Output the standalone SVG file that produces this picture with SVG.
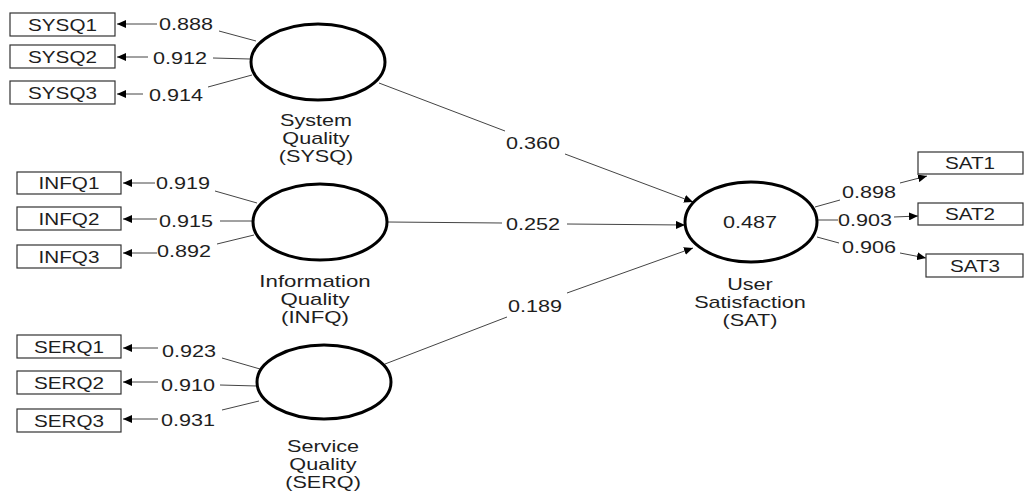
<svg xmlns="http://www.w3.org/2000/svg" width="1024" height="493" viewBox="0 0 1024 493">
<style>
text{font-family:"Liberation Sans",Arial,sans-serif;font-size:15.9px;fill:#1e1e1e;text-anchor:middle}
.lv{fill:none;stroke:#000;stroke-width:3}
.box{fill:#fff;stroke:#333;stroke-width:1.2}
.ln{fill:none;stroke:#444;stroke-width:1}
.ar{fill:none;stroke:#444;stroke-width:1;marker-end:url(#ah)}
</style>
<defs>
<marker id="ah" markerUnits="userSpaceOnUse" markerWidth="10" markerHeight="8" refX="9" refY="4" orient="auto">
<path d="M0,0 L9,4 L0,8 z" fill="#000"/>
</marker>
</defs>
<rect width="1024" height="493" fill="#fff"/>

<g id="connectors">
<line class="ar" x1="157" y1="24" x2="117" y2="24"/>
<line class="ln" x1="219" y1="31" x2="256" y2="41"/>
<text transform="translate(186,29.5) scale(1.36,1)">0.888</text>
<line class="ar" x1="148" y1="57" x2="117" y2="57"/>
<line class="ln" x1="213" y1="58" x2="250" y2="59"/>
<text transform="translate(180,64) scale(1.36,1)">0.912</text>
<line class="ar" x1="143" y1="94" x2="117" y2="94"/>
<line class="ln" x1="208" y1="87" x2="252" y2="75"/>
<text transform="translate(176,101) scale(1.36,1)">0.914</text>
<line class="ar" x1="155" y1="183" x2="123" y2="183"/>
<line class="ln" x1="215" y1="191" x2="257" y2="203"/>
<text transform="translate(183,189) scale(1.36,1)">0.919</text>
<line class="ar" x1="157" y1="219" x2="123" y2="219"/>
<line class="ln" x1="220" y1="221" x2="252" y2="221"/>
<text transform="translate(186,227) scale(1.36,1)">0.915</text>
<line class="ar" x1="157" y1="253" x2="123" y2="253"/>
<line class="ln" x1="217" y1="244" x2="254" y2="235"/>
<text transform="translate(184,257) scale(1.36,1)">0.892</text>
<line class="ar" x1="158" y1="348" x2="123" y2="348"/>
<line class="ln" x1="222" y1="358" x2="260" y2="369"/>
<text transform="translate(189,357) scale(1.36,1)">0.923</text>
<line class="ar" x1="158" y1="382" x2="123" y2="382"/>
<line class="ln" x1="220" y1="385" x2="257" y2="386"/>
<text transform="translate(188,391) scale(1.36,1)">0.910</text>
<line class="ar" x1="158" y1="419" x2="123" y2="419"/>
<line class="ln" x1="222" y1="410" x2="259" y2="401"/>
<text transform="translate(188,426) scale(1.36,1)">0.931</text>
<line class="ln" x1="815" y1="207" x2="840" y2="200"/>
<line class="ar" x1="900" y1="183" x2="927" y2="176"/>
<text transform="translate(869,198) scale(1.36,1)">0.898</text>
<line class="ln" x1="818" y1="220" x2="838" y2="220"/>
<line class="ar" x1="894" y1="217" x2="918" y2="216"/>
<text transform="translate(865,226) scale(1.36,1)">0.903</text>
<line class="ln" x1="817" y1="237" x2="839" y2="243"/>
<line class="ar" x1="900" y1="253" x2="926" y2="258"/>
<text transform="translate(869,253) scale(1.36,1)">0.906</text>
<line class="ln" x1="379" y1="83" x2="505" y2="131"/>
<line class="ar" x1="565" y1="154" x2="693" y2="202"/>
<text transform="translate(533,149) scale(1.36,1)">0.360</text>
<line class="ln" x1="388" y1="222" x2="502" y2="223"/>
<line class="ar" x1="567" y1="224" x2="685" y2="225"/>
<text transform="translate(533,230) scale(1.36,1)">0.252</text>
<line class="ln" x1="385" y1="364" x2="507" y2="317"/>
<line class="ar" x1="567" y1="293" x2="693" y2="248"/>
<text transform="translate(535,312) scale(1.36,1)">0.189</text>
</g>

<g id="SYSQ">
<ellipse class="lv" cx="318" cy="62" rx="67" ry="38"/>
<text transform="translate(316,126) scale(1.36,1)"><tspan x="0" y="0">System</tspan><tspan x="0" dy="18">Quality</tspan><tspan x="0" dy="18">(SYSQ)</tspan></text>
</g>
<g id="INFQ">
<ellipse class="lv" cx="320" cy="222" rx="67" ry="38"/>
<text transform="translate(315,287) scale(1.4,1)"><tspan x="0" y="0">Information</tspan><tspan x="0" dy="18">Quality</tspan><tspan x="0" dy="18">(INFQ)</tspan></text>
</g>
<g id="SERQ">
<ellipse class="lv" cx="324" cy="382" rx="67" ry="37"/>
<text transform="translate(323,452) scale(1.36,1)"><tspan x="0" y="0">Service</tspan><tspan x="0" dy="18">Quality</tspan><tspan x="0" dy="18">(SERQ)</tspan></text>
</g>
<g id="SAT">
<ellipse class="lv" cx="751" cy="222" rx="66" ry="40"/>
<text transform="translate(750,228) scale(1.36,1)">0.487</text>
<text transform="translate(750,290) scale(1.36,1)"><tspan x="0" y="0">User</tspan><tspan x="0" dy="18">Satisfaction</tspan><tspan x="0" dy="18">(SAT)</tspan></text>
</g>

<g id="SYSQ1"><rect class="box" x="10" y="13" width="105" height="23"/><text transform="translate(62.5,30.5) scale(1.3,1)">SYSQ1</text></g>
<g id="SYSQ2"><rect class="box" x="10" y="45" width="105" height="23"/><text transform="translate(62.5,62.5) scale(1.3,1)">SYSQ2</text></g>
<g id="SYSQ3"><rect class="box" x="10" y="81" width="105" height="23"/><text transform="translate(62.5,98.5) scale(1.3,1)">SYSQ3</text></g>
<g id="INFQ1"><rect class="box" x="17" y="172" width="104" height="22"/><text transform="translate(69,189) scale(1.3,1)">INFQ1</text></g>
<g id="INFQ2"><rect class="box" x="17" y="207" width="104" height="23"/><text transform="translate(69,224.5) scale(1.3,1)">INFQ2</text></g>
<g id="INFQ3"><rect class="box" x="17" y="245" width="104" height="23"/><text transform="translate(69,262.5) scale(1.3,1)">INFQ3</text></g>
<g id="SERQ1"><rect class="box" x="17" y="335" width="104" height="23"/><text transform="translate(69,352.5) scale(1.3,1)">SERQ1</text></g>
<g id="SERQ2"><rect class="box" x="17" y="371" width="104" height="23"/><text transform="translate(69,388.5) scale(1.3,1)">SERQ2</text></g>
<g id="SERQ3"><rect class="box" x="17" y="409" width="104" height="23"/><text transform="translate(69,426.5) scale(1.3,1)">SERQ3</text></g>
<g id="SAT1"><rect class="box" x="918" y="152" width="105" height="22"/><text transform="translate(970,169) scale(1.3,1)">SAT1</text></g>
<g id="SAT2"><rect class="box" x="918" y="203" width="105" height="22"/><text transform="translate(970,220) scale(1.3,1)">SAT2</text></g>
<g id="SAT3"><rect class="box" x="926" y="254" width="97" height="23"/><text transform="translate(975,271.5) scale(1.3,1)">SAT3</text></g>
</svg>
